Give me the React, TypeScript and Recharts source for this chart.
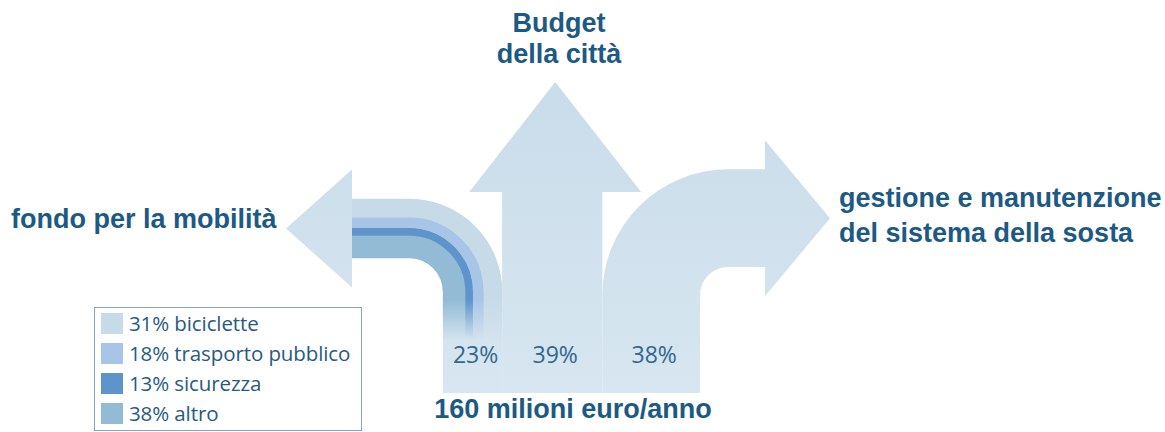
import React from 'react';
import { BarChart, Bar, XAxis, YAxis, LabelList, Legend } from 'recharts';

// ---- data ----
const branchKeys = ['fondo', 'budget', 'gestione'];
const branchShares = [23, 39, 38];
const branchTitles = [['fondo per la mobilità'], ['Budget', 'della città'], ['gestione e manutenzione', 'del sistema della sosta']];
const fundCategories = ['biciclette', 'trasporto pubblico', 'sicurezza', 'altro'];
const fundShares = [31, 18, 13, 38];
const totalLabel = '160 milioni euro/anno';

// ---- styles ----
const W = 1165;
const H = 432;
const fundColors = ['#c7dae7', '#a8c5e8', '#5e93cc', '#93bbd5'];
const TITLE = '#1c5985';
const PCT = '#33678b';
const BOLD = '"Liberation Sans", Arial, sans-serif';
const LIGHT = '"Open Sans", sans-serif';

const row: Record<string, any> = { name: 'totale' };
branchKeys.forEach((k, i) => { row[k] = branchShares[i]; });
const chartData = [row];

const LeftArrow = (props: any) => {
  const { x, y, width, height } = props;
  const xL = x, xR = x + width, yB = y + height;
  const ri = 34, cy = y - 3, cx = xL - ri, ro = ri + width;
  const xBack = 352, xTip = 286, hh = 59;
  const yc = cy - (ri + ro) / 2;
  const d = `M${xL},${yB} L${xL},${cy} A${ri},${ri} 0 0 0 ${cx},${cy - ri} L${xBack},${cy - ri} L${xBack},${yc + hh} L${xTip},${yc} L${xBack},${yc - hh} L${xBack},${cy - ro} L${cx},${cy - ro} A${ro},${ro} 0 0 1 ${xR},${cy} L${xR},${yB} Z`;
  let off = 0;
  const order = [3, 2, 1, 0];
  const bands = order.map((i) => {
    const w = (width * fundShares[i]) / 100;
    const r = ri + off + w / 2;
    off += w;
    return (
      <path key={i} d={`M${xBack},${cy - r} L${cx},${cy - r} A${r},${r} 0 0 1 ${cx + r},${cy} L${cx + r},${yB}`} fill="none" stroke={fundColors[i]} strokeWidth={w + 0.4} />
    );
  });
  return (
    <g>
      <defs>
        <linearGradient id="arrowG" gradientUnits="userSpaceOnUse" x1="0" y1="80" x2="0" y2="393">
          <stop offset="0" stopColor="#c9dcea" />
          <stop offset="1" stopColor="#d7e6f0" />
        </linearGradient>
        <linearGradient id="fadeG" gradientUnits="userSpaceOnUse" x1="0" y1={y + 5} x2="0" y2={y + 45}>
          <stop offset="0" stopColor="#fff" />
          <stop offset="1" stopColor="#000" />
        </linearGradient>
        <mask id="fadeM" maskUnits="userSpaceOnUse" x="0" y="0" width={W} height={H}>
          <rect x="0" y="0" width={W} height={H} fill="url(#fadeG)" />
        </mask>
      </defs>
      <path d={d} fill="url(#arrowG)" />
      <g mask="url(#fadeM)">{bands}</g>
    </g>
  );
};

const MidArrow = (props: any) => {
  const { x, y, width, height } = props;
  const yB = y + height;
  const xc = x + width / 2 + 3;
  const yBase = 192, yTip = 82, hw = 86;
  const d = `M${x},${yB} L${x},${yBase} L${xc - hw},${yBase} L${xc},${yTip} L${xc + hw},${yBase} L${x + width},${yBase} L${x + width},${yB} Z`;
  return <path d={d} fill="url(#arrowG)" />;
};

const RightArrow = (props: any) => {
  const { x, y, width, height } = props;
  const xL = x, xR = x + width, yB = y + height;
  const ri = 28, cy = y, cx = xR + ri, ro = ri + width;
  const xBack = 765, xTip = 830, hh = 78;
  const yc = cy - (ri + ro) / 2;
  const d = `M${xR},${yB} L${xR},${cy} A${ri},${ri} 0 0 1 ${cx},${cy - ri} L${xBack},${cy - ri} L${xBack},${yc + hh} L${xTip},${yc} L${xBack},${yc - hh} L${xBack},${cy - ro} L${cx},${cy - ro} A${ro},${ro} 0 0 0 ${xL},${cy} L${xL},${yB} Z`;
  return <path d={d} fill="url(#arrowG)" />;
};

const shapes = [LeftArrow, MidArrow, RightArrow];

const pctLabel = (props: any) => {
  const { x, y, width, height, value } = props;
  return (
    <text x={x + width / 2 + 3} y={y + height - 30} textAnchor="middle" fill={PCT} fontFamily={LIGHT} fontSize={23}>
      {value}%
    </text>
  );
};

const Titles = () => (
  <g fontFamily={BOLD} fontWeight="bold" fontSize={27} fill={TITLE}>
    <text x={11} y={228}>{branchTitles[0][0]}</text>
    <text x={559} y={32} textAnchor="middle">{branchTitles[1][0]}</text>
    <text x={559} y={63} textAnchor="middle">{branchTitles[1][1]}</text>
    <text x={839} y={207}>{branchTitles[2][0]}</text>
    <text x={839} y={242}>{branchTitles[2][1]}</text>
    <text x={573} y={418} textAnchor="middle">{totalLabel}</text>
  </g>
);

const renderLegend = () => (
  <div style={{ border: '1px solid #8ba6b9', width: 268, height: 124, boxSizing: 'border-box', padding: '0 6px', background: '#fff' }}>
    {fundCategories.map((c, i) => (
      <div key={c} style={{ display: 'flex', alignItems: 'center', height: 30 }}>
        <span style={{ display: 'inline-block', flex: '0 0 22px', width: 22, height: 21, background: fundColors[i], marginRight: 6 }} />
        <span style={{ fontFamily: LIGHT, fontSize: 20.5, color: '#285a80', whiteSpace: 'nowrap', letterSpacing: -0.1 }}>
          {fundShares[i]}% {c}
        </span>
      </div>
    ))}
  </div>
);

export default function App() {
  return (
    <div style={{ position: 'absolute', left: 0, top: 0, width: W, height: H, background: '#fff' }}>
      <BarChart
        width={W}
        height={H}
        data={chartData}
        layout="vertical"
        barCategoryGap={0}
        margin={{ top: 295, bottom: H - 393, left: 443, right: W - 700 }}
      >
        <XAxis type="number" domain={[0, 100]} hide />
        <YAxis type="category" dataKey="name" hide />
        {branchKeys.map((k, i) => (
          <Bar key={k} dataKey={k} stackId="a" isAnimationActive={false} shape={shapes[i]}>
            <LabelList dataKey={k} content={pctLabel} />
          </Bar>
        ))}
        <Titles />
        <Legend
          layout="vertical"
          align="center"
          verticalAlign="middle"
          content={renderLegend}
          wrapperStyle={{ left: 94, top: 307, width: 268, height: 124 }}
        />
      </BarChart>
    </div>
  );
}
